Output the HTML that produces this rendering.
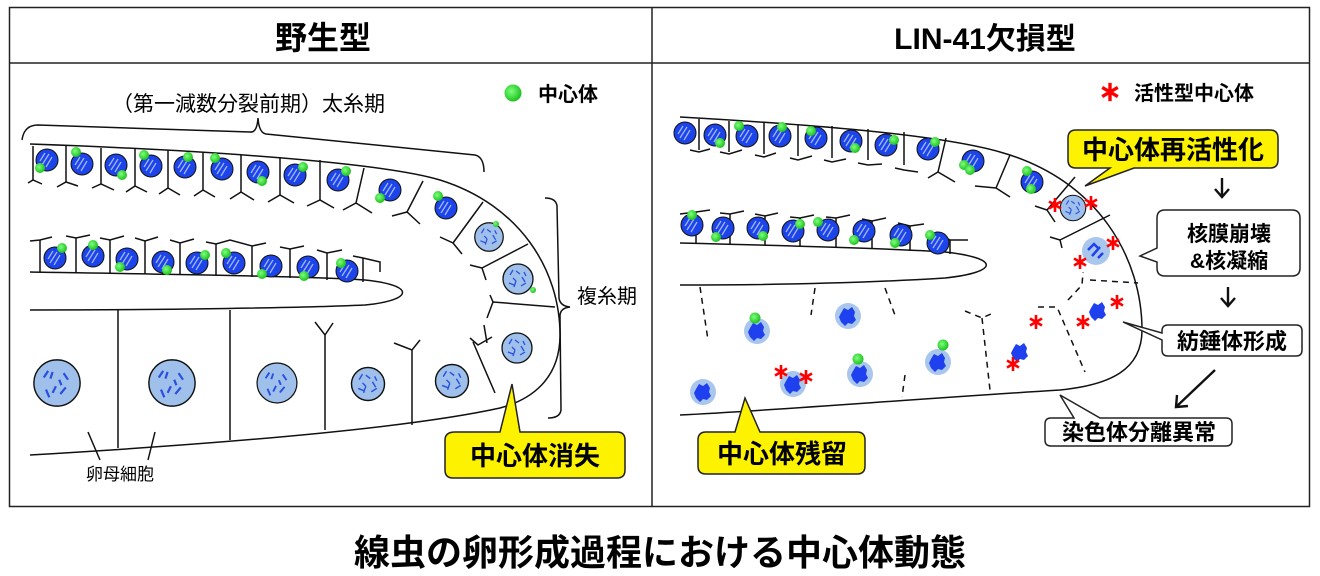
<!DOCTYPE html>
<html><head><meta charset="utf-8"><style>
html,body{margin:0;padding:0;background:#fff;}
svg{display:block;}
text{font-family:"Liberation Sans","Noto Sans CJK JP",sans-serif;}
</style></head><body>
<svg width="1320" height="576" viewBox="0 0 1320 576" xmlns="http://www.w3.org/2000/svg">
<defs>
<radialGradient id="gg" cx="0.4" cy="0.4" r="0.6"><stop offset="0" stop-color="#7dff7d"/><stop offset="1" stop-color="#1fc21f"/></radialGradient>
<g id="n"><circle r="11" fill="#1d44e8" stroke="#111" stroke-width="1"/><path d="M-5,5 L2,-6 M-1,7 L5,-3 M-7,1 L-2,-7" stroke="#9fb6ff" stroke-width="1.3"/></g>
<g id="c"><circle r="5" fill="url(#gg)"/></g>
<g id="L"><circle r="15" fill="#9fc0ea" stroke="#111" stroke-width="1.3"/><path d="M-8,-4 l3,-5 M-2,-8 l4,3 M4,-2 l3,5 M-9,4 l5,2 M-2,2 l-2,6 M3,7 l5,-3 M6,-7 l2,4 M-5,-1 l3,3" stroke="#2a4fe0" stroke-width="1.3"/></g>
<g id="B"><circle r="21" fill="#9fc0ea" stroke="#111" stroke-width="1.3"/><path d="M-12,-5 l4,-6 M-4,-10 l-2,6 M6,-9 l4,6 M-10,6 l3,7 M-1,3 l-3,6 M8,4 l-5,6 M2,-3 l2,5" stroke="#2a4fe0" stroke-width="2"/></g>
<g id="m"><circle r="13" fill="#a9c6ec"/><path d="M-7,-3 l3,-5 l4,2 l4,-3 l3,5 l-1,4 l2,4 l-4,4 l-4,-1 l-3,3 l-4,-4 l-2,-5z" fill="#1e40ef"/></g>
<g id="mb"><path d="M-7,-3 l3,-5 l4,2 l4,-3 l3,5 l-1,4 l2,4 l-4,4 l-4,-1 l-3,3 l-4,-4 l-2,-5z" fill="#1e40ef"/></g>
<g id="s"><path d="M0,-7 V7 M-6,-3.5 L6,3.5 M-6,3.5 L6,-3.5" stroke="#f00" stroke-width="2.6"/></g>
</defs>

<rect x="9.5" y="7.5" width="1300" height="499" fill="none" stroke="#222" stroke-width="1.5"/>
<line x1="9" y1="63" x2="1310" y2="63" stroke="#222" stroke-width="1.5"/>
<line x1="652" y1="7" x2="652" y2="507" stroke="#222" stroke-width="1.5"/>
<text x="323" y="49" font-size="32" font-weight="bold" text-anchor="middle">野生型</text>
<text x="985" y="49" font-size="30" font-weight="bold" text-anchor="middle">LIN-41欠損型</text>
<text x="660" y="565" font-size="36" font-weight="bold" text-anchor="middle">線虫の卵形成過程における中心体動態</text>

<!-- ============ LEFT ============ -->
<text x="112" y="111" font-size="21">（第一減数分裂前期）太糸期</text>
<path d="M22,140 Q24,125 38,125 L250,132 Q257,133 258,118 Q259,133 266,134 L475,155 Q484,157 484,172" fill="none" stroke="#111" stroke-width="1.5"/>
<use href="#c" x="513" y="93" transform="translate(513,93) scale(1.7) translate(-513,-93)"/>
<text x="538" y="101" font-size="20" font-weight="bold">中心体</text>

<g fill="none" stroke="#111" stroke-width="1.5">
<path d="M30,144 C200,150 380,162 440,180 C520,205 560,270 560,335 C560,380 530,400 500,408 C400,430 200,445 30,455"/>
<path d="M30,272 C150,274 300,276 365,280 C415,285 415,300 365,305 C300,308 150,310 30,310"/>
<path d="M33,146 V180 M66,146 V182 M101,148 V184 M135,149 V186 M168,150 V188 M203,152 V190 M241,155 V192 M280,157 V195 M320,160 V200 M364,168 L356,203 M423,181 L407,212 M483,202 L453,243 M528,244 L482,268 M555,307 L493,302"/>
<path d="M28,183 L33,180 L42,184 M57,187 L66,182 L78,186 M92,188 L101,184 L114,190 M126,192 L135,186 L147,192 M159,194 L168,188 L180,195 M194,196 L203,190 L215,197 M230,199 L241,192 L254,200 M268,202 L280,195 L294,203 M307,206 L320,200 L334,208 M343,210 L356,203 L372,213 M392,216 L407,212 L420,224 M440,237 L453,243 L462,254 M470,265 L482,268 L486,280 M490,295 L493,302 L487,318"/>
<path d="M40,272 V240 M76,272 V238 M110,273 V240 M145,274 V241 M180,275 V243 M216,276 V244 M252,277 V246 M290,278 V249 M327,280 V253 M363,282 V258"/>
<path d="M30,241 L40,240 L52,237 M66,236 L76,238 L90,235 M100,238 L110,240 L124,236 M135,238 L145,241 L158,237 M170,240 L180,243 L194,239 M206,242 L216,244 L230,240 L252,246 L266,243 M280,247 L290,249 L304,246 M317,250 L327,253 L342,250 M353,256 L363,258 L380,262 L380,272"/>
<path d="M118,310 V448 M230,310 V440 M325,335 V430 M315,322 L325,335 L333,323 M412,350 V425 M394,343 L412,350 L420,340 M473,342 L495,393 M470,338 L478,345 L492,337 M487,343 L484,325"/>
<path d="M88,432 L100,460 M155,432 L148,460"/>
</g>
<use href="#n" x="47" y="160"/><use href="#c" x="40" y="168"/>
<use href="#n" x="82" y="164"/><use href="#c" x="76" y="152"/>
<use href="#n" x="116" y="165"/><use href="#c" x="122" y="175"/>
<use href="#n" x="151" y="166"/><use href="#c" x="144" y="155"/>
<use href="#n" x="185" y="167"/><use href="#c" x="188" y="157"/>
<use href="#n" x="222" y="169"/><use href="#c" x="215" y="158"/>
<use href="#n" x="258" y="172"/><use href="#c" x="262" y="181"/>
<use href="#n" x="295" y="175"/><use href="#c" x="303" y="167"/>
<use href="#n" x="338" y="180"/><use href="#c" x="346" y="171"/>
<use href="#n" x="390" y="190"/><use href="#c" x="380" y="198"/>
<use href="#n" x="446" y="208"/><use href="#c" x="438" y="196"/>
<use href="#L" x="489" y="237" transform="translate(489,237) scale(0.95) translate(-489,-237)"/><use href="#c" x="496" y="224" transform="translate(496,224) scale(0.6) translate(-496,-224)"/>
<use href="#L" x="518" y="279"/><use href="#c" x="533" y="290" transform="translate(533,290) scale(0.6) translate(-533,-290)"/>
<use href="#L" x="517" y="348"/>
<use href="#L" x="452" y="381" transform="translate(452,381) scale(1.1) translate(-452,-381)"/>
<use href="#L" x="368" y="384" transform="translate(368,384) scale(1.1) translate(-368,-384)"/>
<use href="#B" x="277" y="383" transform="translate(277,383) scale(0.95) translate(-277,-383)"/>
<use href="#B" x="172" y="383" transform="translate(172,383) scale(1.1) translate(-172,-383)"/>
<use href="#B" x="57" y="383" transform="translate(57,383) scale(1.1) translate(-57,-383)"/>
<use href="#n" x="55" y="258"/><use href="#c" x="62" y="248"/>
<use href="#n" x="93" y="256"/><use href="#c" x="93" y="245"/>
<use href="#n" x="127" y="259"/><use href="#c" x="120" y="267"/>
<use href="#n" x="163" y="262"/><use href="#c" x="167" y="270"/>
<use href="#n" x="197" y="263"/><use href="#c" x="205" y="255"/>
<use href="#n" x="234" y="263"/><use href="#c" x="226" y="253"/>
<use href="#n" x="271" y="266"/><use href="#c" x="262" y="274"/>
<use href="#n" x="308" y="267"/><use href="#c" x="304" y="276"/>
<use href="#n" x="347" y="271"/><use href="#c" x="341" y="263"/>

<text x="577" y="303" font-size="20">複糸期</text>
<path d="M545,198 Q556,198 557,206 L559,298 Q560,306 570,307 Q560,308 560,316 L561,410 Q560,418 548,418" fill="none" stroke="#111" stroke-width="1.5"/>
<text x="86" y="480" font-size="17">卵母細胞</text>

<path d="M455,432 L500,432 L512,384 L520,432 L617,432 Q625,432 625,440 L625,470 Q625,478 617,478 L453,478 Q445,478 445,470 L445,440 Q445,432 455,432Z" fill="#fdf300" stroke="#222" stroke-width="1.5"/>
<text x="535" y="465" font-size="26" font-weight="bold" text-anchor="middle">中心体消失</text>

<!-- ============ RIGHT ============ -->
<use href="#s" x="1110" y="92" transform="translate(1110,92) scale(1.3) translate(-1110,-92)"/>
<text x="1134" y="100" font-size="20" font-weight="bold">活性型中心体</text>

<g fill="none" stroke="#111" stroke-width="1.5">
<path d="M680,117 C820,125 940,135 1000,152 C1100,180 1142,260 1142,330 C1142,370 1110,385 1060,390 C900,400 780,410 680,415"/>
<path d="M680,243 C800,246 900,249 945,252 C1000,258 1000,272 945,278 C850,284 760,285 680,285"/>
<path d="M699,119 V150 M729,121 V152 M764,122 V154 M798,124 V156 M832,126 V158 M868,129 V160 M904,132 V165 M946,138 L938,172 M1010,155 L996,188 M1075,177 L1047,210 M1110,215 L1060,240"/>
<path d="M690,150 L699,152 L710,149 M720,152 L729,154 L742,150 M755,155 L764,157 L776,153 M790,158 L798,160 L812,156 M824,160 L832,162 L846,159 M858,163 L868,165 L882,164 M895,168 L904,170 L918,172 M928,178 L938,172 L955,182 M975,186 L996,188 L1010,197 M1035,206 L1047,210 L1055,222 M1050,237 L1060,240 L1062,248"/>
<path d="M696,243 V212 M730,245 V214 M765,245 V216 M800,246 V218 M836,247 V218 M872,249 V221 M910,251 V226 M950,254 V240"/>
<path d="M680,214 L696,212 L710,210 M720,213 L730,214 L744,211 M755,214 L765,216 L778,213 M790,217 L800,218 L814,215 M826,217 L836,218 L850,215 M862,219 L872,221 L886,218 M898,223 L910,226 L924,224 M936,232 L950,240 L968,240"/>
</g>
<g fill="none" stroke="#111" stroke-width="1.5" stroke-dasharray="6,5">
<path d="M700,287 L708,340 M815,288 L811,315 M885,288 L896,318 M905,375 L902,397 M965,311 L982,318 L993,313 M982,318 L990,390 M1038,307 L1057,307 L1085,372 M1068,300 L1082,285 L1083,272 M1090,280 L1138,283"/>
</g>
<use href="#n" x="685" y="133"/>
<use href="#n" x="715" y="135"/><use href="#c" x="720" y="143"/>
<use href="#n" x="747" y="136"/><use href="#c" x="739" y="126"/>
<use href="#n" x="780" y="136"/><use href="#c" x="782" y="127"/>
<use href="#n" x="816" y="138"/><use href="#c" x="811" y="131"/>
<use href="#n" x="851" y="141"/><use href="#c" x="855" y="148"/>
<use href="#n" x="886" y="145"/><use href="#c" x="894" y="140"/>
<use href="#n" x="928" y="149"/><use href="#c" x="935" y="142"/>
<use href="#n" x="973" y="161"/><use href="#c" x="964" y="165"/><use href="#c" x="970" y="170"/>
<use href="#n" x="1032" y="182"/><use href="#c" x="1027" y="171"/><use href="#c" x="1031" y="189"/>
<use href="#L" x="1073" y="208" transform="translate(1073,208) scale(0.85) translate(-1073,-208)"/>
<use href="#s" x="1055" y="205"/><use href="#s" x="1091" y="203"/>
<circle cx="1096" cy="251" r="14" fill="#a9c6ec"/><path d="M1088,250 l6,-6 l5,5 M1092,256 l8,-9 M1098,258 l5,-5" stroke="#1e40ef" stroke-width="2.5" fill="none"/>
<use href="#s" x="1113" y="243"/><use href="#s" x="1080" y="262"/>
<use href="#n" x="692" y="225"/><use href="#c" x="692" y="215"/>
<use href="#n" x="723" y="228"/><use href="#c" x="716" y="237"/>
<use href="#n" x="758" y="228"/><use href="#c" x="763" y="236"/>
<use href="#n" x="793" y="231"/><use href="#c" x="800" y="224"/>
<use href="#n" x="828" y="230"/><use href="#c" x="818" y="222"/>
<use href="#n" x="864" y="231"/><use href="#c" x="854" y="240"/>
<use href="#n" x="901" y="235"/><use href="#c" x="895" y="243"/>
<use href="#n" x="938" y="243"/><use href="#c" x="930" y="235"/>
<use href="#m" x="703" y="392"/>
<use href="#m" x="757" y="331"/><use href="#c" x="755" y="318" transform="translate(755,318) scale(1.1) translate(-755,-318)"/>
<use href="#m" x="848" y="316"/>
<use href="#m" x="860" y="374"/><use href="#c" x="858" y="359" transform="translate(858,359) scale(1.1) translate(-858,-359)"/>
<use href="#m" x="793" y="384"/><use href="#s" x="781" y="372"/><use href="#s" x="806" y="377"/>
<use href="#m" x="938" y="362"/><use href="#c" x="943" y="345" transform="translate(943,345) scale(1.1) translate(-943,-345)"/>
<use href="#mb" x="1020" y="352"/><use href="#s" x="1013" y="364"/>
<use href="#s" x="1036" y="322"/>
<use href="#mb" x="1098" y="311"/><use href="#s" x="1083" y="322"/><use href="#s" x="1117" y="302"/>

<path d="M1076,130 L1270,130 Q1278,130 1278,138 L1278,160 Q1278,168 1270,168 L1134,168 L1085,186 L1110,168 L1076,168 Q1068,168 1068,160 L1068,138 Q1068,130 1076,130Z" fill="#fdf300" stroke="#222" stroke-width="1.5"/>
<text x="1173" y="159" font-size="26" font-weight="bold" text-anchor="middle">中心体再活性化</text>
<path d="M1165,210 L1292,210 Q1300,210 1300,218 L1300,268 Q1300,276 1292,276 L1165,276 Q1157,276 1157,268 L1157,262 L1140,256 L1157,248 L1157,218 Q1157,210 1165,210Z" fill="#fff" stroke="#222" stroke-width="1.5"/>
<text x="1229" y="241" font-size="21" font-weight="bold" text-anchor="middle">核膜崩壊</text>
<text x="1229" y="268" font-size="21" font-weight="bold" text-anchor="middle">&amp;核凝縮</text>
<path d="M1168,325 L1296,325 Q1302,325 1302,331 L1302,350 Q1302,356 1296,356 L1168,356 Q1162,356 1162,350 L1162,340 L1123,322 L1162,333 L1162,331 Q1162,325 1168,325Z" fill="#fff" stroke="#222" stroke-width="1.5"/>
<text x="1232" y="349" font-size="22" font-weight="bold" text-anchor="middle">紡錘体形成</text>
<path d="M1051,418 L1074,418 L1060,395 L1100,418 L1226,418 Q1232,418 1232,424 L1232,440 Q1232,446 1226,446 L1051,446 Q1045,446 1045,440 L1045,424 Q1045,418 1051,418Z" fill="#fff" stroke="#222" stroke-width="1.5"/>
<text x="1139" y="440" font-size="22" font-weight="bold" text-anchor="middle">染色体分離異常</text>
<path d="M706,432 L735,432 L745,398 L760,432 L857,432 Q865,432 865,440 L865,466 Q865,474 857,474 L706,474 Q698,474 698,466 L698,440 Q698,432 706,432Z" fill="#fdf300" stroke="#222" stroke-width="1.5"/>
<text x="782" y="463" font-size="26" font-weight="bold" text-anchor="middle">中心体残留</text>
<g stroke="#111" stroke-width="2.4" fill="none">
<path d="M1222,178 V196 M1215,189 L1222,197 L1229,189"/>
<path d="M1228,287 V305 M1221,298 L1228,306 L1235,298"/>
<path d="M1215,370 L1176,407 M1177,395 L1176,407 L1188,406"/>
</g>
</svg>
</body></html>
